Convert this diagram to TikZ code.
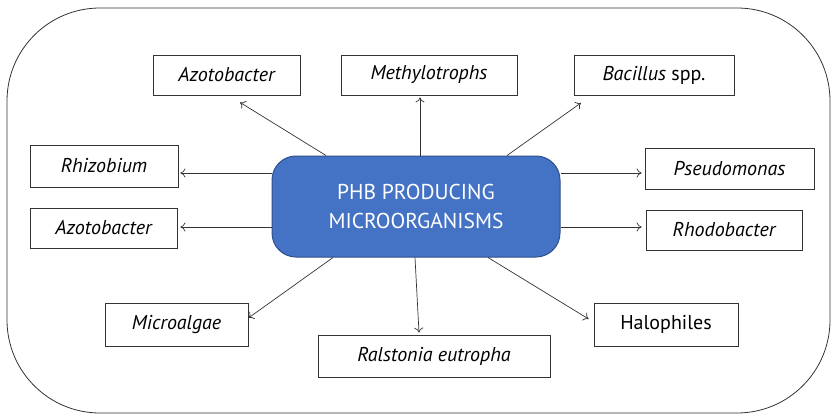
\documentclass[tikz,border=0pt]{standalone}
\usepackage{fontspec}
\setmainfont{PT Sans}
\usetikzlibrary{positioning,arrows.meta}

\definecolor{hubblue}{HTML}{4472C4}
\definecolor{hubedge}{HTML}{2F4F8A}
\definecolor{linegray}{HTML}{333333}

\tikzset{
    orgbox/.style={draw=linegray,line width=0.8pt,minimum height=40pt,
        inner sep=0pt,font=\fontsize{20}{24}\selectfont},
    hubbox/.style={draw=hubedge,line width=1pt,fill=hubblue,rounded corners=24pt,
        minimum width=288pt,minimum height=101pt,text=white,align=center,
        font=\fontsize{21.5}{29}\selectfont},
    link/.style={-{To[length=5pt,width=9pt]},draw=linegray,line width=0.7pt}
}

\begin{document}
\begin{tikzpicture}[x=1pt,y=-1pt]
    \useasboundingbox (0,0) rectangle (835,417);
    % outer frame
    \draw[draw=linegray,line width=0.8pt,rounded corners=93pt] (7,8) rectangle (830,413);

    % hub
    \node[hubbox] (hub) at (416,206.5) {PHB PRODUCING\\MICROORGANISMS};

    % organisms
    \node[orgbox,minimum width=147pt] (azoA) at (226.5,75) {\itshape Azotobacter};
    \node[orgbox,minimum width=176pt] (meth) at (429,75) {\itshape Methylotrophs};
    \node[orgbox,minimum width=160pt] (bac) at (654,75.5) {\textit{Bacillus} spp.};
    \node[orgbox,minimum width=148pt,minimum height=42pt] (rhiz) at (104,166) {\itshape Rhizobium};
    \node[orgbox,minimum width=147pt] (azoB) at (103.5,228) {\itshape Azotobacter};
    \node[orgbox,minimum width=169pt,minimum height=41pt] (pseu) at (729.5,168.5) {\itshape Pseudomonas};
    \node[orgbox,minimum width=156pt] (rhod) at (724,230) {\itshape Rhodobacter};
    \node[orgbox,minimum width=143pt,minimum height=43pt] (micro) at (176.5,324.5) {\itshape Microalgae};
    \node[orgbox,minimum width=232pt,minimum height=42pt] (ral) at (434,356) {\itshape Ralstonia eutropha};
    \node[orgbox,minimum width=144pt,minimum height=43pt] (halo) at (666,324.5) {Halophiles};

    % arrows
    \draw[link] ([shift={(-90,0)}]hub.north) -- ([shift={(13.5,7)}]azoA.south);
    \draw[link] ([shift={(4,0)}]hub.north) -- ([shift={(-9,2)}]meth.south);
    \draw[link] ([shift={(91,0)}]hub.north) -- ([shift={(-73,7)}]bac.south);
    \draw[link] ([shift={(0,-33.5)}]hub.west) -- ([shift={(2,7)}]rhiz.east);
    \draw[link] ([shift={(0,20.5)}]hub.west) -- ([shift={(3,-1)}]azoB.east);
    \draw[link] ([shift={(0,-33.5)}]hub.east) -- ([shift={(-3,4.5)}]pseu.west);
    \draw[link] ([shift={(0,20.5)}]hub.east) -- ([shift={(-4,-3)}]rhod.west);
    \draw[link] ([shift={(-83,0)}]hub.south) -- ([shift={(0,-6.5)}]micro.east);
    \draw[link] ([shift={(-1,0)}]hub.south) -- ([shift={(-15,-2)}]ral.north);
    \draw[link] ([shift={(72,0)}]hub.south) -- ([shift={(-5,-5.5)}]halo.west);
\end{tikzpicture}
\end{document}
